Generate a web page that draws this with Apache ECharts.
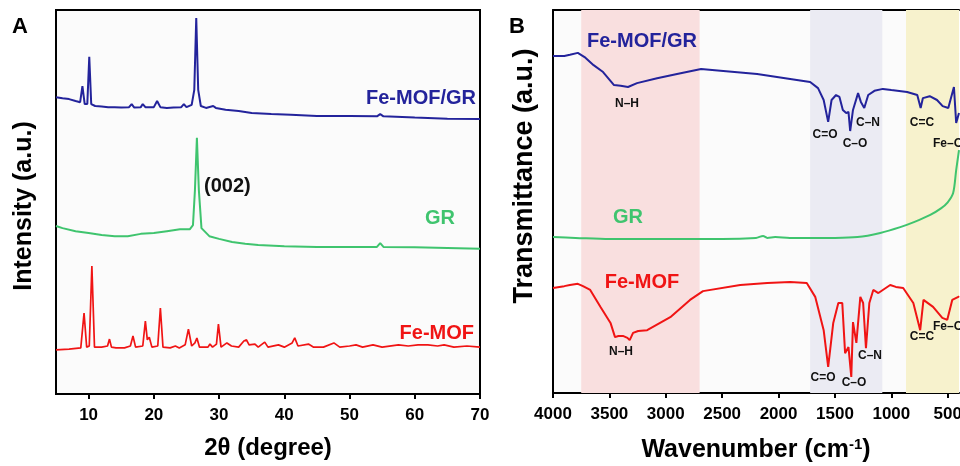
<!DOCTYPE html>
<html><head><meta charset="utf-8">
<script src="https://cdn.jsdelivr.net/npm/echarts@6/dist/echarts.min.js"></script>
<style>html,body{margin:0;padding:0;background:#fff}#c{width:960px;height:466px}</style>
</head><body><div id="c"></div>
<script>
// ---------- DATA ----------
const xrdTicks = [10, 20, 30, 40, 50, 60, 70];
const ftirTicks = [4000, 3500, 3000, 2500, 2000, 1500, 1000, 500];

// XRD (2theta, intensity a.u., offset stacked)
const xrdFeMofGr = [[5,77.3],[6,77.0],[7,76.8],[8,76.3],[8.7,76.0],[9.05,80.2],[9.4,75.5],[9.8,75.5],[10.1,87.8],[10.4,75.5],[11,75.0],[12,74.9],[13,74.7],[14,74.7],[15,74.6],[16.2,74.7],[16.6,75.5],[17,74.6],[18,74.7],[18.3,75.5],[18.7,74.7],[20,74.7],[20.5,76.3],[21,74.7],[22,74.5],[23,74.6],[24.2,74.7],[24.6,75.5],[25,74.7],[25.8,75.3],[26.2,79.2],[26.5,97.9],[26.8,79.2],[27.2,75.0],[28,74.5],[29.1,75.0],[29.5,74.5],[31,74.0],[33,73.7],[35,73.2],[38,72.9],[41,72.7],[45,72.4],[50,72.4],[54.2,72.3],[54.7,72.9],[55.2,72.3],[60,72.0],[65,71.7],[70,71.6]];
const xrdGr = [[5,43.75],[6,43.2],[8,42.4],[10,41.9],[12,41.4],[14,41.1],[16,41.1],[18,41.7],[20,41.9],[22,42.4],[24,42.9],[25.5,42.9],[26.0,44.0],[26.3,53.1],[26.6,66.7],[26.9,53.1],[27.3,43.2],[28.5,41.1],[30,40.4],[32,39.6],[34,39.1],[36,38.8],[40,38.5],[45,38.3],[50,38.3],[54.2,38.3],[54.7,39.3],[55.2,38.3],[60,38.2],[65,38.0],[70,37.8]];
const xrdFeMof = [[5,11.5],[7,11.7],[8.8,12.0],[9.3,21.1],[9.7,12.2],[10.1,12.5],[10.5,33.3],[10.9,12.2],[12,12.2],[12.9,12.5],[13.2,14.3],[13.5,12.2],[14.2,12.0],[15.5,12.0],[16.4,12.5],[16.8,15.1],[17.2,12.2],[18.3,12.5],[18.7,19.0],[19.0,14.1],[19.3,14.8],[19.7,12.2],[20.6,12.5],[21.0,22.4],[21.4,12.2],[22.5,12.0],[23.3,12.5],[23.6,13.0],[23.9,12.0],[24.8,12.8],[25.3,16.9],[25.8,12.5],[26.3,13.3],[26.6,14.6],[27.0,12.2],[28.3,12.2],[28.6,13.0],[29.0,12.2],[29.6,13.0],[29.9,18.2],[30.3,12.2],[31.2,13.3],[31.5,13.3],[31.9,12.5],[33,12.2],[33.8,13.8],[34.2,14.1],[34.6,12.8],[35.5,13.0],[36,12.2],[37.0,13.5],[37.5,12.2],[39.1,12.8],[40,12.2],[41.2,13.3],[41.6,14.6],[42.1,12.5],[43.7,13.0],[44.5,12.2],[46,12.2],[47.6,13.3],[47.9,13.5],[48.5,12.2],[50,12.5],[51,12.8],[52,12.2],[53.6,12.8],[55,12.2],[57.5,12.8],[59,12.5],[60.5,12.8],[62,12.8],[63.5,12.5],[64.5,12.8],[66,12.2],[68,12.5],[70,12.2]];

// FTIR (wavenumber cm-1, transmittance a.u., offset stacked)
const ftirFeMofGr = [[4000,88.0],[3900,88.0],[3850,88.3],[3780,88.8],[3720,87.7],[3640,85.6],[3556,83.8],[3459,80.4],[3400,80.2],[3335,79.9],[3255,80.9],[3077,82.2],[2900,83.3],[2687,84.6],[2490,84.1],[2190,83.3],[1897,82.0],[1720,81.2],[1650,79.6],[1600,76.5],[1560,70.8],[1530,76.5],[1490,77.8],[1460,77.3],[1430,73.9],[1400,73.1],[1380,73.4],[1365,68.4],[1340,73.9],[1295,78.3],[1270,76.0],[1240,74.4],[1205,77.8],[1150,78.9],[1075,79.4],[1000,79.1],[860,78.6],[770,77.8],[740,74.4],[720,77.0],[660,77.5],[595,76.5],[545,74.9],[495,74.4],[445,79.9],[425,70.5],[400,73.1]];
const ftirGr = [[4000,40.7],[3800,40.5],[3500,40.2],[3000,40.2],[2500,40.2],[2200,40.5],[2137,41.0],[2100,40.5],[2030,40.7],[1900,40.5],[1700,40.5],[1500,40.5],[1300,40.7],[1098,41.8],[921,43.3],[800,44.6],[655,46.5],[560,48.2],[500,49.8],[452,52.2],[425,58.2],[400,63.4]];
const ftirFeMof = [[4000,27.4],[3900,27.9],[3850,28.2],[3780,28.5],[3734,27.9],[3670,26.9],[3580,22.5],[3490,18.3],[3450,14.6],[3420,14.9],[3380,14.9],[3340,14.4],[3320,13.8],[3290,15.7],[3245,16.2],[3165,16.4],[2960,19.8],[2785,24.3],[2670,26.6],[2340,28.2],[2100,28.7],[1897,29.0],[1750,28.7],[1675,25.1],[1600,16.4],[1560,6.8],[1515,18.3],[1470,23.5],[1435,23.5],[1410,10.4],[1380,12.0],[1355,4.2],[1340,18.5],[1310,13.1],[1275,25.1],[1250,23.5],[1225,11.7],[1195,23.5],[1160,26.9],[1115,26.1],[1010,28.2],[960,27.7],[895,27.4],[805,23.5],[744,16.4],[715,24.3],[630,22.5],[548,19.6],[504,19.1],[460,24.3],[406,25.1],[400,25.3]];

// shaded FTIR regions [from, to] in cm-1
const ftirBands = [[3750, 2700], [1720, 1080], [870, 400]];

// ---------- CHART ----------
const FONT = 'Liberation Sans, Arial, Helvetica, sans-serif';
const NAVY = '#23239b', GREEN = '#3fc46e', RED = '#f01414';
const bandColors = ['#f9dfdf', '#ebebf3', '#f7f2cd'];

const chart = echarts.init(document.getElementById('c'), null, {renderer: 'canvas'});

const txt = (text, x, y, color, size, align, rot) => ({
  type: 'text', x: x, y: y, rotation: rot || 0, silent: true, z: 100,
  style: {text: text, fill: color, font: 'bold ' + size + 'px ' + FONT, align: align || 'center', verticalAlign: 'middle'}
});

const tickLabel = {fontFamily: FONT, fontWeight: 'bold', fontSize: 17, color: '#000', margin: 13, hideOverlap: false,
  formatter: function (v) { return String(v); }};

const option = {
  animation: false,
  backgroundColor: '#ffffff',
  grid: [
    {left: 56, right: 480, top: 10, bottom: 72, outerBoundsMode: 'none', containLabel: false, show: true, backgroundColor: '#fbfbfb', borderColor: '#000', borderWidth: 2},
    {left: 553, right: 1, top: 10, bottom: 73, outerBoundsMode: 'none', containLabel: false, show: true, backgroundColor: '#fbfbfb', borderWidth: 0}
  ],
  xAxis: [
    {gridIndex: 0, type: 'value', min: 5, max: 70,
     name: '2θ (degree)', nameLocation: 'middle', nameGap: 42,
     nameTextStyle: {fontFamily: FONT, fontWeight: 'bold', fontSize: 24, color: '#000'},
     axisLine: {show: true, lineStyle: {color: '#000', width: 2}},
     axisTick: {show: true, customValues: xrdTicks, length: 5, lineStyle: {color: '#000', width: 2}},
     axisLabel: Object.assign({customValues: xrdTicks}, tickLabel),
     splitLine: {show: false}},
    {gridIndex: 1, type: 'value', min: 400, max: 4000, inverse: true,
     name: 'Wavenumber (cm{sup|-1})', nameLocation: 'middle', nameGap: 44,
     nameTextStyle: {fontFamily: FONT, fontWeight: 'bold', fontSize: 25, color: '#000',
       rich: {sup: {fontFamily: FONT, fontWeight: 'bold', fontSize: 15, color: '#000', verticalAlign: 'top', padding: [0, 0, 12, 0]}}},
     axisLine: {show: true, onZero: false, lineStyle: {color: '#000', width: 2}},
     axisTick: {show: true, customValues: ftirTicks, length: 5, lineStyle: {color: '#000', width: 2}},
     axisLabel: Object.assign({customValues: ftirTicks}, tickLabel),
     splitLine: {show: false}},
    {gridIndex: 1, type: 'value', min: 400, max: 4000, inverse: true, position: 'top',
     axisLine: {show: true, onZero: false, lineStyle: {color: '#000', width: 2}},
     axisTick: {show: false}, axisLabel: {show: false}, splitLine: {show: false}}
  ],
  yAxis: [
    {gridIndex: 0, type: 'value', min: 0, max: 100,
     axisLine: {show: true, lineStyle: {color: '#000', width: 2}},
     axisTick: {show: false}, axisLabel: {show: false}, splitLine: {show: false}},
    {gridIndex: 1, type: 'value', min: 0, max: 100,
     axisLine: {show: true, onZero: false, lineStyle: {color: '#000', width: 2}},
     axisTick: {show: false}, axisLabel: {show: false}, splitLine: {show: false}}
  ],
  series: [
    {name: 'bands', type: 'line', xAxisIndex: 1, yAxisIndex: 1, data: [], z: 1, silent: true,
     markArea: {silent: true, data: ftirBands.map((b, i) => [{xAxis: b[0], itemStyle: {color: bandColors[i]}}, {xAxis: b[1]}])}},
    {name: 'XRD Fe-MOF/GR', type: 'line', xAxisIndex: 0, yAxisIndex: 0, data: xrdFeMofGr, showSymbol: false, z: 5, lineStyle: {color: NAVY, width: 2}},
    {name: 'XRD GR', type: 'line', xAxisIndex: 0, yAxisIndex: 0, data: xrdGr, showSymbol: false, z: 5, lineStyle: {color: GREEN, width: 2}},
    {name: 'XRD Fe-MOF', type: 'line', xAxisIndex: 0, yAxisIndex: 0, data: xrdFeMof, showSymbol: false, z: 5, lineStyle: {color: RED, width: 1.7}},
    {name: 'FTIR Fe-MOF/GR', type: 'line', xAxisIndex: 1, yAxisIndex: 1, data: ftirFeMofGr, showSymbol: false, z: 5, lineStyle: {color: NAVY, width: 2}},
    {name: 'FTIR GR', type: 'line', xAxisIndex: 1, yAxisIndex: 1, data: ftirGr, showSymbol: false, smooth: 0.3, z: 5, lineStyle: {color: GREEN, width: 2}},
    {name: 'FTIR Fe-MOF', type: 'line', xAxisIndex: 1, yAxisIndex: 1, data: ftirFeMof, showSymbol: false, z: 5, lineStyle: {color: RED, width: 2}}
  ],
  graphic: [
    txt('A', 20, 27, '#000', 22),
    txt('B', 517, 27, '#000', 22),
    txt('Intensity (a.u.)', 24, 206, '#000', 25, 'center', Math.PI / 2),
    txt('Transmittance (a.u.)', 525, 176, '#000', 27, 'center', Math.PI / 2),
    txt('Fe-MOF/GR', 476, 98, NAVY, 20, 'right'),
    txt('(002)', 204, 186, '#111', 20, 'left'),
    txt('GR', 455, 218, GREEN, 20, 'right'),
    txt('Fe-MOF', 474, 333, RED, 20, 'right'),
    txt('Fe-MOF/GR', 587, 41, NAVY, 20, 'left'),
    txt('GR', 628, 217, GREEN, 20),
    txt('Fe-MOF', 642, 282, RED, 20),
    txt('N–H', 627, 104, '#111', 12),
    txt('C=O', 825, 135, '#111', 12),
    txt('C–O', 855, 144, '#111', 12),
    txt('C–N', 868, 123, '#111', 12),
    txt('C=C', 922, 123, '#111', 12),
    txt('Fe–O', 933, 144, '#111', 12, 'left'),
    txt('N–H', 621, 352, '#111', 12),
    txt('C=O', 823, 378, '#111', 12),
    txt('C–O', 854, 383, '#111', 12),
    txt('C–N', 870, 356, '#111', 12),
    txt('C=C', 922, 337, '#111', 12),
    txt('Fe–O', 933, 327, '#111', 12, 'left')
  ]
};
chart.setOption(option);
</script></body></html>
